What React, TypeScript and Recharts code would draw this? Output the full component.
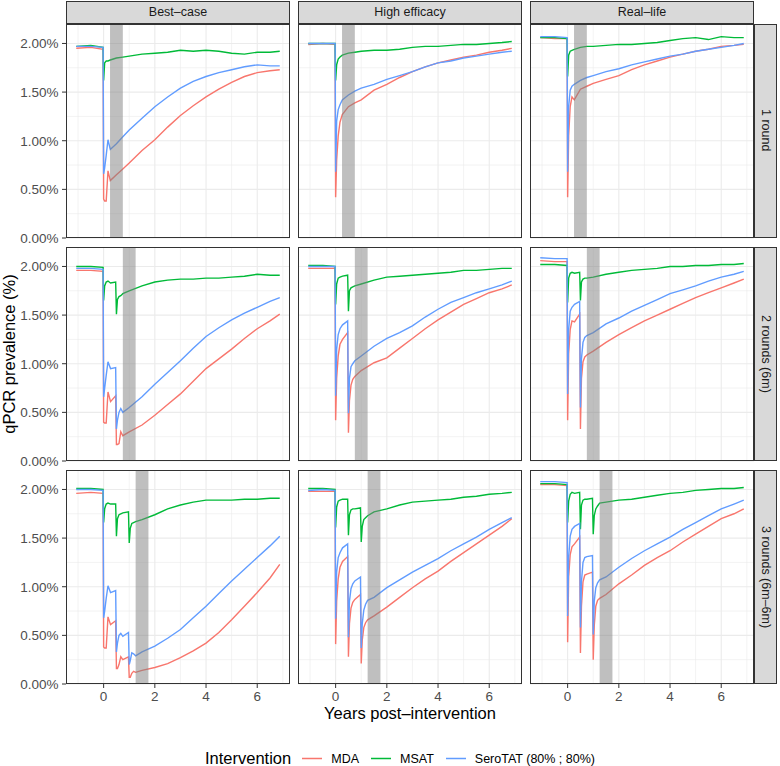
import { CartesianGrid, Line, LineChart, ReferenceArea, XAxis, YAxis } from "recharts"

// facet labels
const columns = ["Best–case", "High efficacy", "Real–life"]
const rows = ["1 round", "2 rounds (6m)", "3 rounds (6m–6m)"]

// axis breaks
const majorX = [0, 2, 4, 6]
const minorX = [-1, 1, 3, 5, 7]
const majorY = [0, 0.5, 1, 1.5, 2]
const minorY = [0.25, 0.75, 1.25, 1.75]

// shaded windows (years) per row
const bands = [
  [0.25, 0.75],
  [0.75, 1.25],
  [1.25, 1.75],
]

// time points, 1 round
const times1 = [-1.07, -0.5, -0.02, 0, 0.04, 0.1, 0.17, 0.26, 0.5, 0.75, 1, 1.5, 2, 2.5, 3, 3.5, 4, 4.5, 5, 5.5, 6, 6.5, 6.88]
const r1BestMDA = [1.95, 1.96, 1.94, 0.4, 0.38, 0.38, 0.69, 0.59, 0.65, 0.71, 0.77, 0.9, 1.01, 1.14, 1.26, 1.36, 1.45, 1.53, 1.6, 1.66, 1.7, 1.72, 1.73]
const r1BestMSAT = [1.97, 1.98, 1.96, 1.62, 1.8, 1.82, 1.82, 1.83, 1.85, 1.86, 1.87, 1.89, 1.9, 1.91, 1.93, 1.92, 1.93, 1.92, 1.9, 1.89, 1.91, 1.91, 1.92]
const r1BestSero = [1.97, 1.97, 1.96, 0.66, 0.72, 0.85, 1.01, 0.91, 0.97, 1.04, 1.11, 1.23, 1.35, 1.45, 1.54, 1.61, 1.66, 1.7, 1.73, 1.76, 1.78, 1.77, 1.77]
const r1HighMDA = [1.99, 2.0, 1.99, 0.42, 0.8, 1.05, 1.19, 1.27, 1.35, 1.39, 1.42, 1.52, 1.58, 1.65, 1.71, 1.76, 1.8, 1.83, 1.86, 1.88, 1.91, 1.93, 1.95]
const r1HighMSAT = [2.0, 2.0, 2.0, 1.62, 1.78, 1.84, 1.86, 1.88, 1.9, 1.91, 1.92, 1.93, 1.93, 1.94, 1.96, 1.97, 1.97, 1.98, 1.99, 1.99, 2.0, 2.01, 2.02]
const r1HighSero = [2.0, 2.0, 2.0, 0.68, 1.2, 1.32, 1.37, 1.42, 1.47, 1.51, 1.54, 1.58, 1.63, 1.67, 1.71, 1.76, 1.8, 1.82, 1.85, 1.87, 1.89, 1.91, 1.92]
const r1RealMDA = [2.06, 2.05, 2.05, 0.42, 1.05, 1.35, 1.45, 1.42, 1.53, 1.56, 1.59, 1.63, 1.67, 1.73, 1.78, 1.82, 1.86, 1.89, 1.92, 1.94, 1.97, 1.98, 1.99]
const r1RealMSAT = [2.06, 2.06, 2.05, 1.66, 1.88, 1.92, 1.93, 1.94, 1.96, 1.97, 1.97, 1.98, 1.99, 1.99, 2.0, 2.01, 2.03, 2.05, 2.06, 2.04, 2.07, 2.06, 2.06]
const r1RealSero = [2.07, 2.07, 2.06, 0.68, 1.35, 1.52, 1.56, 1.58, 1.62, 1.65, 1.67, 1.71, 1.74, 1.78, 1.81, 1.84, 1.87, 1.89, 1.92, 1.94, 1.96, 1.98, 2.0]

// time points, 2 rounds
const times2 = [-1.07, -0.5, -0.02, 0, 0.04, 0.1, 0.17, 0.27, 0.47, 0.5, 0.54, 0.6, 0.67, 0.75, 1, 1.5, 2, 2.5, 3, 3.5, 4, 4.5, 5, 5.5, 6, 6.5, 6.88]
const r2BestMDA = [1.96, 1.96, 1.95, 0.4, 0.39, 0.39, 0.71, 0.61, 0.67, 0.17, 0.17, 0.18, 0.3, 0.26, 0.3, 0.37, 0.47, 0.58, 0.69, 0.82, 0.95, 1.05, 1.15, 1.26, 1.36, 1.44, 1.51]
const r2BestMSAT = [2.0, 2.0, 1.99, 1.65, 1.8, 1.84, 1.85, 1.83, 1.84, 1.51, 1.66, 1.69, 1.7, 1.72, 1.75, 1.8, 1.84, 1.86, 1.87, 1.87, 1.88, 1.88, 1.89, 1.9, 1.92, 1.91, 1.91]
const r2BestSero = [1.98, 1.98, 1.97, 0.66, 0.75, 0.88, 1.02, 0.95, 0.96, 0.33, 0.42, 0.5, 0.54, 0.5, 0.55, 0.66, 0.79, 0.91, 1.03, 1.16, 1.28, 1.37, 1.45, 1.52, 1.58, 1.64, 1.68]
const r2HighMDA = [1.98, 1.98, 1.98, 0.42, 0.85, 1.08, 1.2, 1.25, 1.32, 0.29, 0.62, 0.78, 0.84, 0.87, 0.93, 1.01, 1.06, 1.16, 1.26, 1.36, 1.45, 1.53, 1.61, 1.67, 1.73, 1.77, 1.81]
const r2HighMSAT = [2.01, 2.01, 2.0, 1.61, 1.82, 1.88, 1.89, 1.9, 1.91, 1.54, 1.75, 1.78, 1.79, 1.8, 1.82, 1.86, 1.89, 1.9, 1.91, 1.92, 1.93, 1.94, 1.96, 1.96, 1.97, 1.98, 1.98]
const r2HighSero = [2.0, 2.0, 2.0, 0.67, 1.15, 1.3, 1.36, 1.4, 1.44, 0.49, 0.85, 0.97, 1.0, 1.03, 1.08, 1.18, 1.26, 1.32, 1.39, 1.48, 1.56, 1.63, 1.68, 1.73, 1.77, 1.81, 1.85]
const r2RealMDA = [2.06, 2.05, 2.05, 0.42, 1.1, 1.35, 1.44, 1.43, 1.51, 0.33, 0.85, 1.02, 1.07, 1.09, 1.13, 1.22, 1.3, 1.37, 1.44, 1.5, 1.56, 1.62, 1.68, 1.73, 1.78, 1.83, 1.87]
const r2RealMSAT = [2.02, 2.02, 2.01, 1.63, 1.88, 1.93, 1.94, 1.93, 1.94, 1.65, 1.84, 1.87, 1.88, 1.88, 1.89, 1.92, 1.94, 1.96, 1.97, 1.98, 2.0, 2.0, 2.01, 2.01, 2.02, 2.02, 2.03]
const r2RealSero = [2.09, 2.08, 2.08, 0.69, 1.35, 1.54, 1.58, 1.61, 1.64, 0.55, 1.05, 1.22, 1.27, 1.29, 1.32, 1.41, 1.47, 1.54, 1.6, 1.66, 1.72, 1.76, 1.8, 1.85, 1.89, 1.92, 1.95]

// time points, 3 rounds
const times3 = [-1.07, -0.5, -0.02, 0, 0.04, 0.1, 0.17, 0.27, 0.47, 0.5, 0.54, 0.6, 0.67, 0.75, 0.97, 1.0, 1.04, 1.1, 1.17, 1.25, 1.5, 2, 2.5, 3, 3.5, 4, 4.5, 5, 5.5, 6, 6.5, 6.88]
const r3BestMDA = [1.96, 1.97, 1.96, 0.38, 0.37, 0.37, 0.69, 0.61, 0.65, 0.16, 0.16, 0.2, 0.28, 0.25, 0.28, 0.07, 0.07, 0.11, 0.13, 0.12, 0.14, 0.17, 0.21, 0.27, 0.34, 0.42, 0.53, 0.66, 0.8, 0.94, 1.09, 1.23]
const r3BestMSAT = [2.01, 2.01, 2.0, 1.66, 1.8, 1.85, 1.86, 1.85, 1.85, 1.52, 1.7, 1.74, 1.75, 1.76, 1.77, 1.45, 1.6, 1.65, 1.66, 1.67, 1.69, 1.74, 1.8, 1.84, 1.87, 1.89, 1.89, 1.89, 1.9, 1.9, 1.91, 1.91]
const r3BestSero = [2.0, 2.0, 1.99, 0.68, 0.75, 0.88, 1.01, 0.94, 0.96, 0.33, 0.42, 0.5, 0.52, 0.49, 0.53, 0.2, 0.24, 0.32, 0.31, 0.29, 0.33, 0.39, 0.47, 0.56, 0.68, 0.8, 0.93, 1.06, 1.18, 1.3, 1.42, 1.52]
const r3HighMDA = [1.98, 1.98, 1.98, 0.41, 0.85, 1.08, 1.2, 1.26, 1.31, 0.28, 0.62, 0.78, 0.84, 0.87, 0.92, 0.21, 0.45, 0.58, 0.63, 0.66, 0.7, 0.79, 0.89, 0.99, 1.08, 1.16, 1.26, 1.35, 1.44, 1.53, 1.62, 1.7]
const r3HighMSAT = [2.01, 2.01, 2.0, 1.61, 1.82, 1.88, 1.89, 1.9, 1.9, 1.53, 1.74, 1.79, 1.8, 1.8, 1.81, 1.46, 1.62, 1.69, 1.71, 1.73, 1.77, 1.8, 1.84, 1.87, 1.88, 1.89, 1.9, 1.92, 1.93, 1.95, 1.96, 1.97]
const r3HighSero = [1.99, 2.0, 1.99, 0.67, 1.15, 1.3, 1.35, 1.4, 1.44, 0.48, 0.85, 0.98, 1.03, 1.06, 1.1, 0.37, 0.62, 0.76, 0.82, 0.86, 0.89, 0.99, 1.07, 1.15, 1.22, 1.29, 1.37, 1.44, 1.51, 1.59, 1.66, 1.71]
const r3RealMDA = [2.05, 2.05, 2.04, 0.43, 1.1, 1.33, 1.41, 1.44, 1.51, 0.32, 0.8, 1.05, 1.12, 1.13, 1.15, 0.25, 0.6, 0.8, 0.86, 0.88, 0.92, 1.03, 1.12, 1.22, 1.3, 1.37, 1.46, 1.54, 1.62, 1.7, 1.75, 1.8]
const r3RealMSAT = [2.06, 2.06, 2.05, 1.66, 1.88, 1.95, 1.97, 1.96, 1.97, 1.59, 1.84, 1.89, 1.9, 1.9, 1.91, 1.54, 1.73, 1.8, 1.83, 1.86, 1.87, 1.89, 1.9, 1.92, 1.94, 1.96, 1.97, 1.99, 2.0, 2.01, 2.01, 2.02]
const r3RealSero = [2.08, 2.08, 2.07, 0.7, 1.3, 1.52, 1.59, 1.62, 1.65, 0.58, 1.05, 1.25, 1.3, 1.31, 1.32, 0.51, 0.85, 0.99, 1.04, 1.07, 1.1, 1.2, 1.29, 1.37, 1.44, 1.51, 1.59, 1.66, 1.73, 1.8, 1.85, 1.89]

const rowTimes = [times1, times2, times3]
const panelSeries = [
  [
    [r1BestMDA, r1BestMSAT, r1BestSero],
    [r1HighMDA, r1HighMSAT, r1HighSero],
    [r1RealMDA, r1RealMSAT, r1RealSero],
  ],
  [
    [r2BestMDA, r2BestMSAT, r2BestSero],
    [r2HighMDA, r2HighMSAT, r2HighSero],
    [r2RealMDA, r2RealMSAT, r2RealSero],
  ],
  [
    [r3BestMDA, r3BestMSAT, r3BestSero],
    [r3HighMDA, r3HighMSAT, r3HighSero],
    [r3RealMDA, r3RealMSAT, r3RealSero],
  ],
]

const seriesNames = ["MDA", "MSAT", "SeroTAT (80% ; 80%)"]
const colors = ["#F8766D", "#00BA38", "#619CFF"]
const keys = ["mda", "msat", "sero"]

// layout
const FONT = '"Liberation Sans", Arial, Helvetica, sans-serif'
const COL_LEFT = [66, 298, 530]
const ROW_TOP = [23.5, 247, 470]
const PW = 224
const PH = 214
const YW = 66
const XH = 28
const PAD = 8 // room under hidden x axes so the 0.00% label is not clipped
const TICK_FONT = 13.5

function Panel({ row, col }: { row: number; col: number }) {
  const showY = col === 0
  const showX = row === 2
  const times = rowTimes[row]
  const [mda, msat, sero] = panelSeries[row][col]
  const data = times.map((t, i) => ({ t, mda: mda[i], msat: msat[i], sero: sero[i] }))
  const band = bands[row]

  return (
    <div style={{ position: "absolute", left: COL_LEFT[col] - (showY ? YW : 0), top: ROW_TOP[row] }}>
      <LineChart
        width={PW + (showY ? YW : 0)}
        height={PH + (showX ? XH : PAD)}
        data={data}
        margin={{ top: 0, right: 0, bottom: showX ? 0 : PAD, left: 0 }}
      >
        <CartesianGrid verticalValues={minorX} horizontalValues={minorY} stroke="#ebebeb" strokeWidth={0.6} />
        <CartesianGrid verticalValues={majorX} horizontalValues={majorY} stroke="#ebebeb" strokeWidth={1.1} />
        <XAxis
          type="number"
          dataKey="t"
          domain={[-1.47, 7.28]}
          ticks={majorX}
          interval={0}
          allowDataOverflow
          hide={!showX}
          height={XH}
          axisLine={false}
          tickLine={{ stroke: "#333333" }}
          tickSize={4}
          tickMargin={3.5}
          tick={{ fill: "#4d4d4d", fontSize: TICK_FONT, fontFamily: FONT }}
        />
        <YAxis
          type="number"
          domain={[0, 2.2]}
          ticks={majorY}
          interval={0}
          allowDataOverflow
          hide={!showY}
          width={YW}
          axisLine={false}
          tickLine={{ stroke: "#333333" }}
          tickSize={4}
          tickMargin={3.5}
          tickFormatter={(v: number) => `${v.toFixed(2)}%`}
          tick={{ fill: "#4d4d4d", fontSize: TICK_FONT, fontFamily: FONT }}
        />
        {keys.map((k, i) => (
          <Line
            key={k}
            dataKey={k}
            stroke={colors[i]}
            strokeWidth={1.4}
            dot={false}
            type="linear"
            isAnimationActive={false}
          />
        ))}
        <ReferenceArea
          x1={band[0]}
          x2={band[1]}
          y1={0}
          y2={2.2}
          fill="#7f7f7f"
          fillOpacity={0.5}
          stroke="none"
          zIndex={450}
        />
      </LineChart>
      <div
        style={{
          position: "absolute",
          left: showY ? YW : 0,
          top: 0,
          width: PW,
          height: PH,
          border: "1px solid #333333",
          boxSizing: "border-box",
          pointerEvents: "none",
        }}
      />
    </div>
  )
}

const stripStyle = {
  position: "absolute" as const,
  background: "#d9d9d9",
  border: "1px solid #333333",
  boxSizing: "border-box" as const,
  display: "flex",
  alignItems: "center",
  justifyContent: "center",
  color: "#1a1a1a",
  fontSize: 12.5,
}

export default function App() {
  return (
    <div style={{ position: "absolute", left: 0, top: 0, width: 780, height: 766, background: "#fff", fontFamily: FONT }}>
      {columns.map((c, i) => (
        <div key={c} style={{ ...stripStyle, left: COL_LEFT[i], top: 1, width: PW, height: 22.5 }}>
          {c}
        </div>
      ))}
      {rows.map((r, i) => (
        <div
          key={r}
          style={{ ...stripStyle, left: COL_LEFT[2] + PW, top: ROW_TOP[i], width: 23, height: PH, writingMode: "vertical-rl" }}
        >
          {r}
        </div>
      ))}
      {rows.map((_, r) => columns.map((_, c) => <Panel key={`${r}-${c}`} row={r} col={c} />))}

      <div
        style={{
          position: "absolute",
          left: 9,
          top: 353.5,
          transform: "translate(-50%, -50%) rotate(-90deg)",
          fontSize: 16.5,
          whiteSpace: "nowrap",
          color: "#000",
        }}
      >
        qPCR prevalence (%)
      </div>
      <div
        style={{
          position: "absolute",
          left: 410,
          top: 713,
          transform: "translate(-50%, -50%)",
          fontSize: 16.5,
          whiteSpace: "nowrap",
          color: "#000",
        }}
      >
        Years post–intervention
      </div>

      <div style={{ position: "absolute", left: 205, top: 758, transform: "translateY(-50%)", display: "flex", alignItems: "center" }}>
        <span style={{ fontSize: 16.5, marginRight: 11 }}>Intervention</span>
        {seriesNames.map((n, i) => (
          <span key={n} style={{ display: "flex", alignItems: "center", marginRight: 12 }}>
            <svg width={20} height={10} style={{ marginRight: 9 }}>
              <line x1={0} y1={5} x2={20} y2={5} stroke={colors[i]} strokeWidth={1.4} />
            </svg>
            <span style={{ fontSize: 12.5 }}>{n}</span>
          </span>
        ))}
      </div>
    </div>
  )
}
